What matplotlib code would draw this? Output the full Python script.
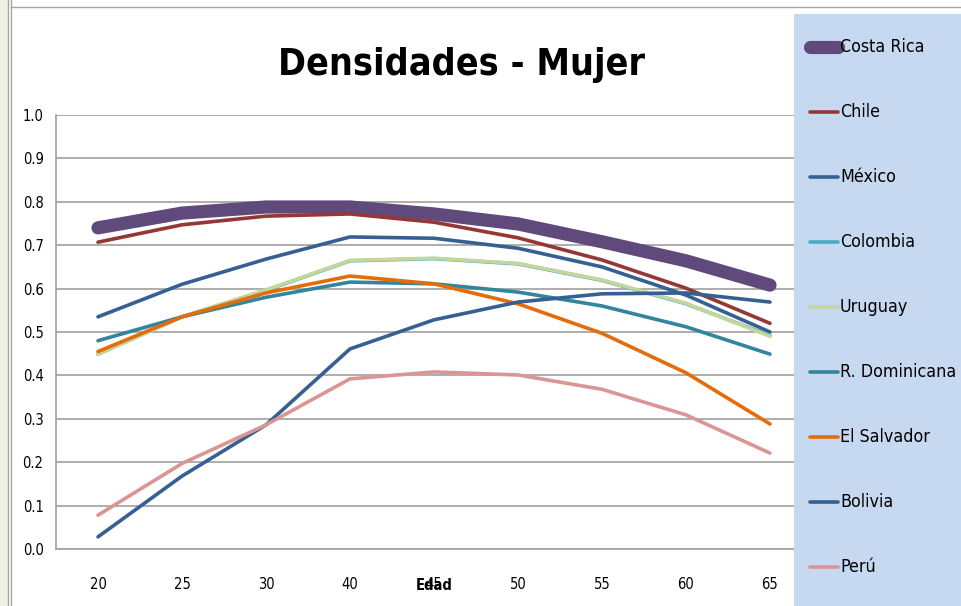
import matplotlib
matplotlib.use("Agg")
import matplotlib.pyplot as plt
from matplotlib.lines import Line2D
from matplotlib.patches import Rectangle

# Edad (categorias del eje X)
edades = ["20", "25", "30", "40", "45", "50", "55", "60", "65"]

costa_rica = [0.740, 0.774, 0.788, 0.788, 0.772, 0.749, 0.708, 0.664, 0.608]
chile = [0.707, 0.747, 0.767, 0.772, 0.753, 0.717, 0.666, 0.601, 0.520]
mexico = [0.535, 0.610, 0.668, 0.719, 0.716, 0.693, 0.650, 0.585, 0.500]
colombia = [0.449, 0.535, 0.596, 0.664, 0.669, 0.657, 0.619, 0.565, 0.492]
uruguay = [0.448, 0.535, 0.597, 0.665, 0.670, 0.658, 0.620, 0.566, 0.490]
r_dominicana = [0.480, 0.535, 0.580, 0.615, 0.611, 0.592, 0.560, 0.512, 0.449]
el_salvador = [0.455, 0.535, 0.590, 0.629, 0.611, 0.565, 0.497, 0.406, 0.288]
bolivia = [0.028, 0.168, 0.286, 0.461, 0.528, 0.569, 0.588, 0.590, 0.569]
peru = [0.078, 0.197, 0.286, 0.392, 0.408, 0.401, 0.368, 0.309, 0.221]

series = [
    ("Costa Rica", costa_rica, "#604A7B", 9.5),
    ("Chile", chile, "#953735", 2.6),
    ("México", mexico, "#376092", 2.6),
    ("Colombia", colombia, "#4BACC6", 2.6),
    ("Uruguay", uruguay, "#C3D69B", 2.6),
    ("R. Dominicana", r_dominicana, "#31859C", 2.6),
    ("El Salvador", el_salvador, "#E46C0A", 2.6),
    ("Bolivia", bolivia, "#376092", 2.6),
    ("Perú", peru, "#D99694", 2.6),
]

FONT = dict(family="DejaVu Sans", stretch="condensed")
W, H = 961, 606

fig = plt.figure(figsize=(W / 100, H / 100), dpi=100)
fig.patch.set_facecolor("white")

# marco de la hoja de calculo
fig.add_artist(Rectangle((0, 0), 8 / W, 1, transform=fig.transFigure,
                         facecolor="#EEF0E2", edgecolor="none", zorder=0))
for xp in (8, 11):
    fig.add_artist(Line2D([xp / W, xp / W], [0, 1], transform=fig.transFigure,
                          color="#A6A6A6", lw=1))
fig.add_artist(Line2D([11 / W, 1], [1 - 7 / H, 1 - 7 / H], transform=fig.transFigure,
                      color="#A6A6A6", lw=1))

ax = fig.add_axes([56 / W, (H - 549) / H, (812 - 56) / W, (549 - 115) / H])
x = list(range(len(edades)))
for name, vals, color, lw in series:
    ax.plot(x, vals, color=color, lw=lw, solid_capstyle="round",
            solid_joinstyle="round", label=name)

ax.set_xlim(-0.5, len(edades) - 0.5)
ax.set_ylim(0, 1.0)
ax.set_yticks([i / 10 for i in range(11)])
ax.set_yticklabels([f"{i / 10:.1f}" for i in range(11)], fontsize=10.5, **FONT)
ax.set_xticks(x)
ax.set_xticklabels(edades, fontsize=10.5, **FONT)
ax.tick_params(length=0, pad=9)
ax.tick_params(axis="x", pad=20)
ax.grid(axis="y", color="#A0A0A0", lw=1.2)
ax.set_axisbelow(True)
for side in ("top", "right"):
    ax.spines[side].set_visible(False)
for side in ("left", "bottom"):
    ax.spines[side].set_color("#A0A0A0")
    ax.spines[side].set_linewidth(1.2)

fig.text(434 / W, 1 - 586 / H, "Edad", fontsize=10.5, fontweight="bold",
         ha="center", va="center", **FONT)
fig.text(462 / W, 1 - 65 / H, "Densidades - Mujer", fontsize=27,
         fontweight="bold", ha="center", va="center", **FONT)

# leyenda
fig.add_artist(Rectangle((794 / W, 0), (W - 794) / W, (H - 14) / H,
                         transform=fig.transFigure, facecolor="#C6D9F1",
                         edgecolor="none", zorder=5))
for i, (name, vals, color, lw) in enumerate(series):
    yp = 1 - (47 + 65 * i) / H
    fig.add_artist(Line2D([810 / W, 838 / W], [yp, yp], transform=fig.transFigure,
                          color=color, lw=lw, solid_capstyle="round", zorder=6))
    fig.text(840 / W, yp, name, fontsize=12.8, ha="left", va="center",
             zorder=7, **FONT)

fig.savefig("out.png", dpi=100)
